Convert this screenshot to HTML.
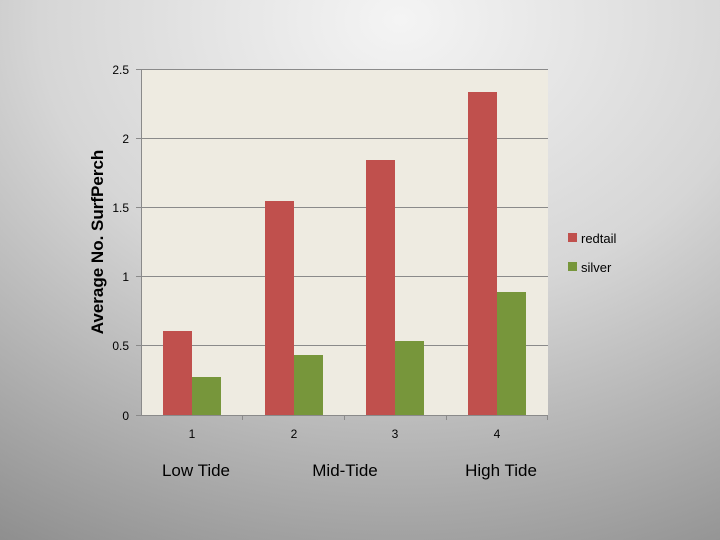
<!DOCTYPE html>
<html><head><style>
body{margin:0;width:720px;height:540px;overflow:hidden;font-family:"Liberation Sans",sans-serif;
background:radial-gradient(ellipse 900px 700px at 400px 20px,#f4f4f4 0%,#d6d6d6 40%,#a8a8a8 70%,#7a7a7a 100%);}
</style></head><body>
<svg width="720" height="540" style="position:absolute;left:0;top:0" font-family="Liberation Sans, sans-serif">
<rect x="141" y="69" width="407" height="346" fill="#eeebe1"/>
<g stroke="#8a8a8a" stroke-width="1">
<line x1="136" y1="69.5" x2="548" y2="69.5"/>
<line x1="136" y1="138.5" x2="548" y2="138.5"/>
<line x1="136" y1="207.5" x2="548" y2="207.5"/>
<line x1="136" y1="276.5" x2="548" y2="276.5"/>
<line x1="136" y1="345.5" x2="548" y2="345.5"/>
<line x1="141.5" y1="69" x2="141.5" y2="415"/>
</g>
<g fill="#c0504d">
<rect x="163" y="331" width="29" height="84"/>
<rect x="265" y="201" width="29" height="214"/>
<rect x="366" y="160" width="29" height="255"/>
<rect x="468" y="92" width="29" height="323"/>
</g>
<g fill="#77963b">
<rect x="192" y="377" width="29" height="38"/>
<rect x="294" y="355" width="29" height="60"/>
<rect x="395" y="341" width="29" height="74"/>
<rect x="497" y="292" width="29" height="123"/>
</g>
<g stroke="#8a8a8a" stroke-width="1">
<line x1="136" y1="415.5" x2="548" y2="415.5"/>
<line x1="242.5" y1="415" x2="242.5" y2="420"/>
<line x1="344.5" y1="415" x2="344.5" y2="420"/>
<line x1="446.5" y1="415" x2="446.5" y2="420"/>
<line x1="547.5" y1="415" x2="547.5" y2="420"/>
</g>
<g font-size="12" fill="#000" text-anchor="end">
<text x="129" y="74">2.5</text><text x="129" y="143">2</text><text x="129" y="212">1.5</text>
<text x="129" y="281">1</text><text x="129" y="350">0.5</text><text x="129" y="420">0</text>
</g>
<g font-size="12" fill="#000" text-anchor="middle">
<text x="192" y="438">1</text><text x="294" y="438">2</text><text x="395" y="438">3</text><text x="497" y="438">4</text>
</g>
<g font-size="17" fill="#000" text-anchor="middle">
<text x="196" y="476">Low Tide</text><text x="345" y="476">Mid-Tide</text><text x="501" y="476">High Tide</text>
</g>
<text transform="translate(103,242) rotate(-90)" text-anchor="middle" font-size="17" font-weight="bold">Average No. SurfPerch</text>
<rect x="568" y="233" width="9" height="9" fill="#c0504d"/>
<text x="581" y="243" font-size="13">redtail</text>
<rect x="568" y="262" width="9" height="9" fill="#77963b"/>
<text x="581" y="272" font-size="13">silver</text>
</svg>
</body></html>
